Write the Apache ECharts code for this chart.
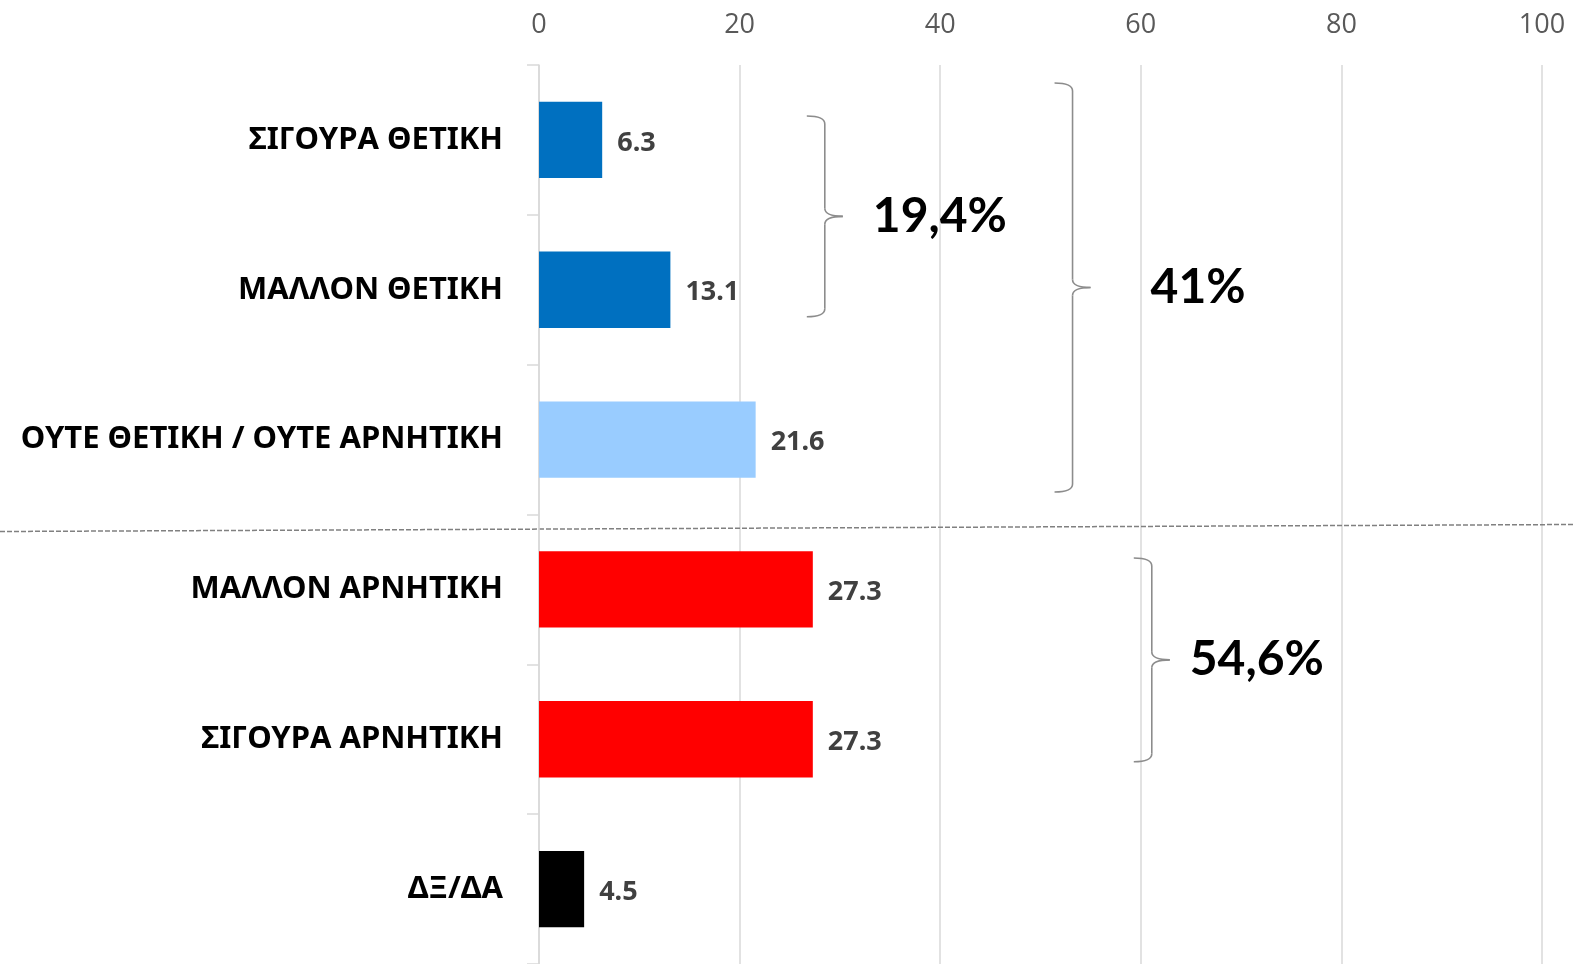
<!DOCTYPE html>
<html lang="el">
<head>
  <meta charset="UTF-8" />
  <title>Γνώμη</title>
  <script src="https://cdn.jsdelivr.net/npm/echarts@6.0.0/dist/echarts.min.js"></script>
  <style>
    body { margin: 0; background: #fff; overflow: hidden; }
    #main { width: 1575px; height: 964px; }
  </style>
</head>
<body>
  <div id="main"></div>
  <script>
    const categories = [
      'ΣΙΓΟΥΡΑ ΘΕΤΙΚΗ',
      'ΜΑΛΛΟΝ ΘΕΤΙΚΗ',
      'ΟΥΤΕ ΘΕΤΙΚΗ / ΟΥΤΕ ΑΡΝΗΤΙΚΗ',
      'ΜΑΛΛΟΝ ΑΡΝΗΤΙΚΗ',
      'ΣΙΓΟΥΡΑ ΑΡΝΗΤΙΚΗ',
      'ΔΞ/ΔΑ'
    ];
    const values = [6.3, 13.1, 21.6, 27.3, 27.3, 4.5];
    const barColors = ['#0070C0', '#0070C0', '#99CCFF', '#FF0000', '#FF0000', '#000000'];
    const xTicks = [0, 20, 40, 60, 80, 100];

    // group brackets: first/last category, x value of the bracket tips, label
    const groups = [
      { from: 0, to: 1, x: 26.7, label: '19,4%', padTop: 0.16, padBot: 0.18, gap: 30 },
      { from: 0, to: 2, x: 51.4, label: '41%', padTop: 0.38, padBot: 0.35, gap: 60 },
      { from: 3, to: 4, x: 59.3, label: '54,6%', padTop: 0.21, padBot: 0.15, gap: 20 }
    ];

    const chart = echarts.init(document.getElementById('main'));

    const option = {
      backgroundColor: '#fff',
      animation: false,
      grid: { left: 539, right: 33, top: 65, bottom: -5 },
      xAxis: {
        type: 'value',
        position: 'top',
        min: xTicks[0],
        max: xTicks[xTicks.length - 1],
        interval: 20,
        axisLine: { show: false },
        axisTick: { show: false },
        axisLabel: {
          color: '#595959',
          fontSize: 27,
          fontFamily: 'Open Sans',
          margin: 26
        },
        splitLine: { lineStyle: { color: '#d9d9d9', width: 1.5 } }
      },
      yAxis: {
        type: 'category',
        inverse: true,
        data: categories,
        axisLine: { lineStyle: { color: '#d9d9d9', width: 1.5 } },
        axisTick: { show: true, length: 12, lineStyle: { color: '#d9d9d9', width: 1.5 } },
        axisLabel: {
          color: '#000',
          fontSize: 31,
          fontWeight: 'bold',
          fontFamily: 'Noto Sans',
          margin: 36,
          padding: [6, 0, 0, 0]
        }
      },
      series: [{
        type: 'bar',
        data: values.map((v, i) => ({ value: v, itemStyle: { color: barColors[i] } })),
        barWidth: '51%',
        label: {
          show: true,
          position: 'right',
          distance: 15,
          offset: [0, 3],
          color: '#404040',
          fontSize: 27,
          fontWeight: 'bold',
          fontFamily: 'Noto Sans'
        }
      }]
    };

    chart.setOption(option);

    // a "}" shaped bracket built from lines and quadratic curves
    function brace(x0, yTop, yBot, w, style) {
      const x1 = x0 + w;
      const x2 = x0 + 2 * w;
      const yMid = (yTop + yBot) / 2;
      const r = 8;
      const curve = (ax, ay, cx, cy, bx, by) => ({
        type: 'bezierCurve',
        shape: { x1: ax, y1: ay, cpx1: cx, cpy1: cy, x2: bx, y2: by },
        style: style
      });
      const line = (ax, ay, bx, by) => ({
        type: 'line',
        shape: { x1: ax, y1: ay, x2: bx, y2: by },
        style: style
      });
      return [
        curve(x0, yTop, x1, yTop, x1, yTop + r),
        line(x1, yTop + r, x1, yMid - r),
        curve(x1, yMid - r, x1, yMid, x2, yMid),
        curve(x2, yMid, x1, yMid, x1, yMid + r),
        line(x1, yMid + r, x1, yBot - r),
        curve(x1, yBot - r, x1, yBot, x0, yBot)
      ];
    }

    function drawAnnotations() {
      let elements = [];
      const band = chart.convertToPixel({ yAxisIndex: 0 }, 1) - chart.convertToPixel({ yAxisIndex: 0 }, 0);
      const lineStyle = { fill: null, stroke: '#8c8c8c', lineWidth: 1.6 };
      groups.forEach(g => {
        const x0 = chart.convertToPixel({ xAxisIndex: 0 }, g.x);
        const yTop = chart.convertToPixel({ yAxisIndex: 0 }, g.from) - band * g.padTop;
        const yBot = chart.convertToPixel({ yAxisIndex: 0 }, g.to) + band * g.padBot;
        const w = 18;
        elements = elements.concat(brace(x0, yTop, yBot, w, lineStyle));
        elements.push({
          type: 'text',
          x: x0 + 2 * w + g.gap,
          y: (yTop + yBot) / 2,
          style: {
            text: g.label,
            fill: '#000',
            font: 'bold 48px Lato',
            align: 'left',
            verticalAlign: 'middle'
          }
        });
      });
      // dashed separator between positive and negative answers
      const ySep = (chart.convertToPixel({ yAxisIndex: 0 }, 2) + chart.convertToPixel({ yAxisIndex: 0 }, 3)) / 2;
      elements.push({
        type: 'line',
        shape: { x1: 0, y1: ySep + 17, x2: 1575, y2: ySep + 10 },
        style: { stroke: '#808080', lineWidth: 1.5, lineDash: [5, 2] }
      });
      chart.setOption({ graphic: { elements: elements } });
    }

    drawAnnotations();
  </script>
</body>
</html>
